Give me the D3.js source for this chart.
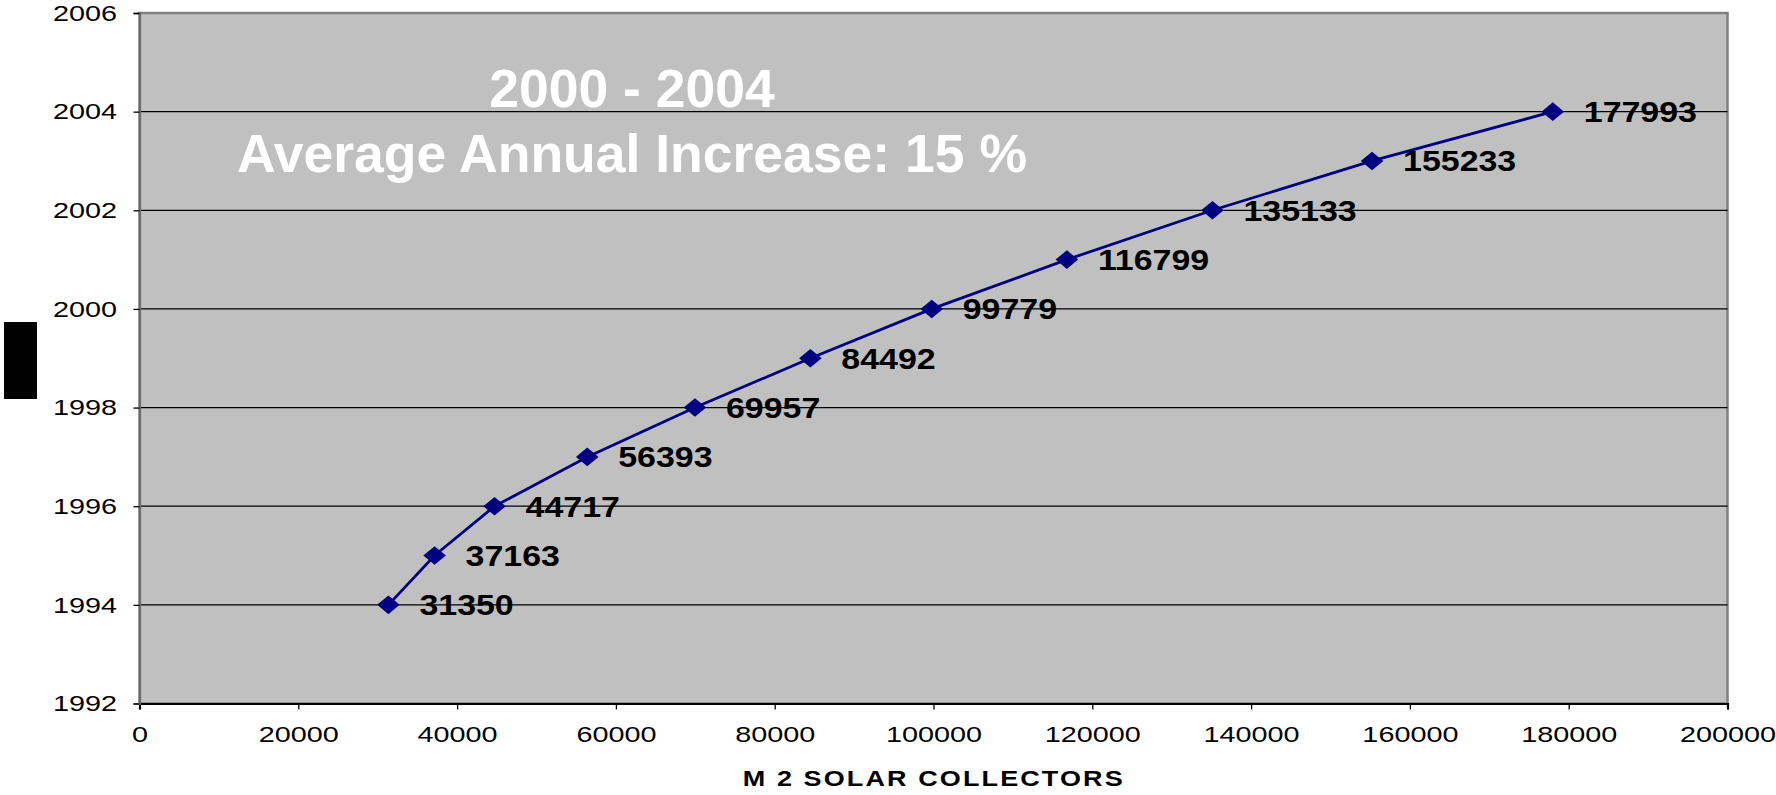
<!DOCTYPE html>
<html>
<head>
<meta charset="utf-8">
<script src="https://cdn.jsdelivr.net/npm/d3@7"></script>
<style>
  html, body { margin: 0; padding: 0; background: #ffffff; }
  svg { display: block; font-family: "Liberation Sans", Arial, Helvetica, sans-serif; }
</style>
</head>
<body>
<svg id="chart" width="1776" height="795"></svg>
<script>
// Solar collector area (m²) installed, by year
const years = [1994, 1995, 1996, 1997, 1998, 1999, 2000, 2001, 2002, 2003, 2004];
const collectors = [31350, 37163, 44717, 56393, 69957, 84492, 99779, 116799, 135133, 155233, 177993];

// Axis ticks
const xTicks = [0, 20000, 40000, 60000, 80000, 100000, 120000, 140000, 160000, 180000, 200000];
const yTicks = [1992, 1994, 1996, 1998, 2000, 2002, 2004, 2006];

// Texts
const xTitle = "M 2 SOLAR COLLECTORS";
const noteLines = ["2000 - 2004", "Average Annual Increase: 15 %"];

const points = years.map((yr, i) => ({ year: yr, value: collectors[i] }));

const svg = d3.select("#chart");
const plotLeft = 139.5, plotRight = 1727.5, plotTop = 13, plotBottom = 703.5;

const x = d3.scaleLinear().domain([0, 200000]).range([plotLeft, plotRight]);
const y = d3.scaleLinear().domain([1992, 2006]).range([plotBottom, plotTop]);

// Plot area
svg.append("rect")
  .attr("x", plotLeft).attr("y", plotTop)
  .attr("width", plotRight - plotLeft).attr("height", plotBottom - plotTop)
  .attr("fill", "#c0c0c0")
  .attr("stroke", "#808080").attr("stroke-width", 2.5);

// Horizontal gridlines
svg.append("g")
  .selectAll("line")
  .data(yTicks.filter(t => t > 1992 && t < 2006))
  .join("line")
  .attr("x1", plotLeft).attr("x2", plotRight)
  .attr("y1", d => y(d)).attr("y2", d => y(d))
  .attr("stroke", "#000").attr("stroke-width", 1.2);

// Block at far left (y-axis title box)
svg.append("rect")
  .attr("x", 4).attr("y", 322).attr("width", 33).attr("height", 77)
  .attr("fill", "#000");

const tickScale = 1.28;

// X axis
const gx = svg.append("g")
  .attr("transform", `translate(0,${plotBottom})`)
  .call(d3.axisBottom(x).tickValues(xTicks).tickSize(6).tickPadding(17).tickFormat(d => String(d)));
gx.select(".domain").attr("stroke", "#000").attr("stroke-width", 2.2);
gx.selectAll(".tick line").attr("stroke", "#000").attr("stroke-width", 1.3);
gx.selectAll(".tick text")
  .attr("font-size", "22.5px")
  .attr("font-family", "Liberation Sans, Arial, sans-serif")
  .attr("fill", "#000")
  .attr("transform", `scale(${tickScale},1)`);

// Y axis
const gy = svg.append("g")
  .attr("transform", `translate(${plotLeft},0)`)
  .call(d3.axisLeft(y).tickValues(yTicks).tickSize(6).tickPadding(16.5).tickFormat(d => String(d)));
gy.select(".domain").attr("stroke", "#6a6a6a").attr("stroke-width", 2.2);
gy.selectAll(".tick line").attr("stroke", "#000").attr("stroke-width", 1.3);
gy.selectAll(".tick text")
  .attr("font-size", "22.5px")
  .attr("font-family", "Liberation Sans, Arial, sans-serif")
  .attr("fill", "#000")
  .attr("x", -22.5 / tickScale)
  .attr("transform", `scale(${tickScale},1)`);

// X axis title (wide bold letters)
const titleScale = 1.2;
svg.append("text")
  .attr("transform", `scale(${titleScale},1)`)
  .attr("x", 742.7 / titleScale).attr("y", 786)
  .attr("textLength", 380 / titleScale).attr("lengthAdjust", "spacing")
  .attr("font-size", "22.5px").attr("font-weight", "bold")
  .attr("fill", "#000")
  .text(xTitle);

// Series line
const line = d3.line().x(d => x(d.value)).y(d => y(d.year));
svg.append("path")
  .datum(points)
  .attr("d", line)
  .attr("fill", "none")
  .attr("stroke", "#000080")
  .attr("stroke-width", 2.8);

// Diamond markers
const hw = 11.3, hh = 9.3;
svg.append("g")
  .selectAll("path")
  .data(points)
  .join("path")
  .attr("transform", d => `translate(${x(d.value)},${y(d.year)})`)
  .attr("d", `M0,${-hh}L${hw},0L0,${hh}L${-hw},0Z`)
  .attr("fill", "#000080");

// Value labels
svg.append("g")
  .selectAll("text")
  .data(points)
  .join("text")
  .attr("transform", d => `translate(${x(d.value) + 31},${y(d.year)}) scale(1.17,1)`)
  .attr("dy", 10.5)
  .attr("font-size", "29px").attr("font-weight", "bold")
  .attr("fill", "#000")
  .text(d => d.value);

// Annotation
svg.append("g")
  .selectAll("text")
  .data(noteLines)
  .join("text")
  .attr("x", 632)
  .attr("y", (d, i) => i === 0 ? 106.7 : 172)
  .attr("text-anchor", "middle")
  .attr("font-size", "53.5px").attr("font-weight", "bold")
  .attr("fill", "#ffffff")
  .text(d => d);
</script>
</body>
</html>
